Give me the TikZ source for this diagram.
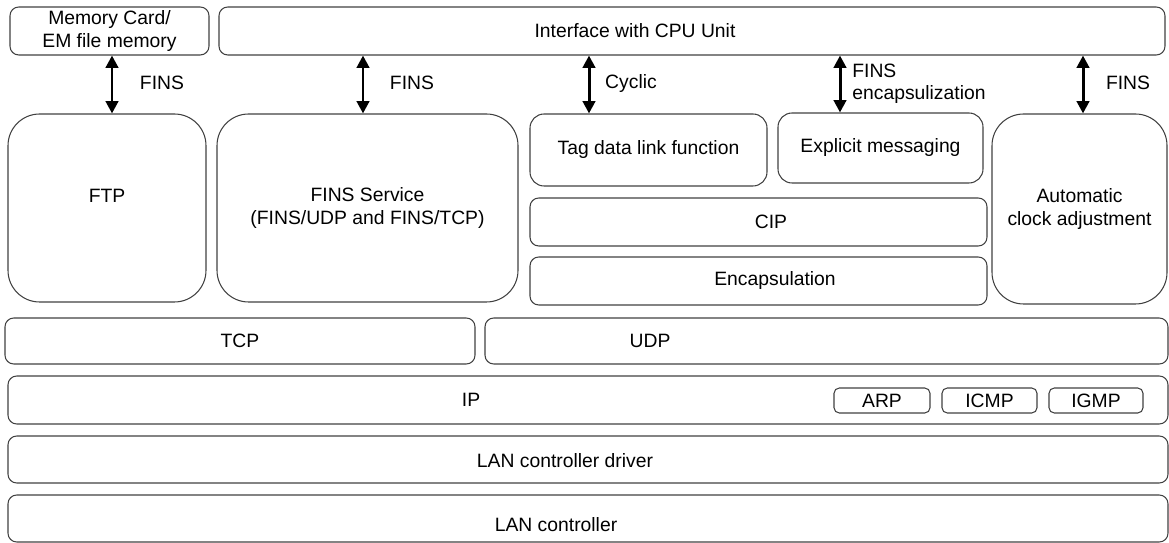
\documentclass[tikz,border=0pt]{standalone}
\usepackage{fontspec}
\setmainfont{Liberation Sans}
\usetikzlibrary{arrows.meta}

\begin{document}
\begin{tikzpicture}[x=0.02cm, y=-0.02cm,
    font=\fontsize{11}{12.8}\selectfont,
    box/.style 2 args={draw=black!75, line width=0.6pt, rounded corners=5pt,
        minimum width=#1*0.02cm, minimum height=#2*0.02cm, inner sep=0pt, align=center},
    lbl/.style={inner sep=0pt, align=center},
    link/.style={line width=1.7pt, {Triangle[length=7pt,width=7pt]}-{Triangle[length=7pt,width=7pt]}}]
    \useasboundingbox (0,0) rectangle (1169,543);

    % top row
    \node[box={199}{48}] (mem) at (109.5,31) {Memory Card/\\EM file memory};
    \node[box={946}{48}] (cpu) at (692,31) {};
    \node[lbl] (cpu-t) at (635,31) {Interface with CPU Unit};

    % services
    \node[box={198}{188}, rounded corners=18pt] (ftp) at (107,208) {};
    \node[lbl] (ftp-t) at (107,196) {FTP};
    \node[box={301}{188}, rounded corners=18pt] (fins) at (367.5,208) {FINS Service\\(FINS/UDP and FINS/TCP)};
    \node[box={237}{72}, rounded corners=8pt] (tag) at (648.5,150) {Tag data link function};
    \node[box={205}{70}, rounded corners=8pt] (expl) at (880.5,148) {Explicit messaging};
    \node[box={175}{190}, rounded corners=18pt] (auto) at (1079.5,209) {Automatic\\clock adjustment};
    \node[box={457}{48}] (cip) at (758.5,222) {};
    \node[lbl] (cip-t) at (771,222) {CIP};
    \node[box={457}{48}] (enc) at (758.5,281) {};
    \node[lbl] (enc-t) at (775,281) {Encapsulation};

    % transport and network
    \node[box={470}{46}] (tcp) at (240,341) {TCP};
    \node[box={683}{46}] (udp) at (826.5,341) {};
    \node[lbl] (udp-t) at (650,341) {UDP};
    \node[box={1160}{48}] (ip) at (588,400) {};
    \node[lbl] (ip-t) at (471,400) {IP};
    \node[box={96}{25}, rounded corners=3pt] (arp) at (882,400.5) {ARP};
    \node[box={95}{25}, rounded corners=3pt] (icmp) at (989.5,400.5) {ICMP};
    \node[box={94}{25}, rounded corners=3pt] (igmp) at (1096,400.5) {IGMP};

    % lower layers
    \node[box={1160}{47}] (drv) at (588,459.5) {};
    \node[lbl] (drv-t) at (565,461) {LAN controller driver};
    \node[box={1160}{47}] (lan) at (588,518.5) {};
    \node[lbl] (lan-t) at (556,525) {LAN controller};

    % links to the CPU unit
    \draw[link] (mem.south -| 112,0) -- (ftp.north -| 112,0);
    \draw[link] (cpu.south -| 363,0) -- (fins.north -| 363,0);
    \draw[link] (cpu.south -| 589,0) -- (tag.north -| 589,0);
    \draw[link] (cpu.south -| 840,0) -- (expl.north -| 840,0);
    \draw[link] (cpu.south -| 1083,0) -- (auto.north -| 1083,0);
    \node[lbl] (l1) at (162,83) {FINS};
    \node[lbl] (l2) at (412,83) {FINS};
    \node[lbl] (l3) at (631,84) {Cyclic};
    \node[lbl, anchor=west, align=left] (l4) at (852,84) {FINS\\encapsulization};
    \node[lbl] (l5) at (1128,83) {FINS};
\end{tikzpicture}
\end{document}
